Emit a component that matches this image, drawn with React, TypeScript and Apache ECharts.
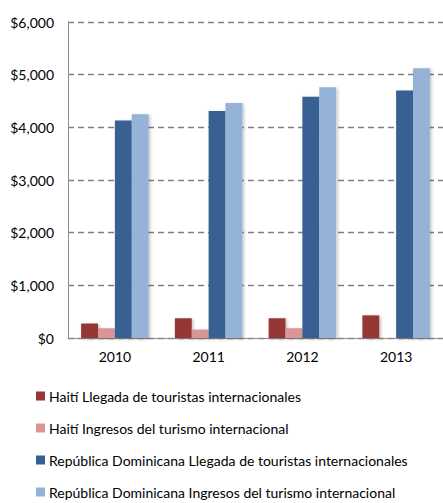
import React, { useEffect, useRef } from "react";
import * as echarts from "echarts";

const categories = ["2010", "2011", "2012", "2013"];
const haitiArrivals = [275, 375, 375, 430];
const haitiReceipts = [185, 160, 185, null];
const drArrivals = [4130, 4310, 4580, 4700];
const drReceipts = [4250, 4460, 4760, 5120];
const seriesNames = [
  "Haití Llegada de touristas internacionales",
  "Haití Ingresos del turismo internacional",
  "República Dominicana Llegada de touristas internacionales",
  "República Dominicana Ingresos del turismo internacional",
];
const colors = ["#953735", "#D99694", "#376092", "#95B3D7"];

export default function App() {
  const ref = useRef<HTMLDivElement>(null);
  useEffect(() => {
    document.body.style.margin = "0";
    const chart = echarts.init(ref.current!, null, { renderer: "svg" });
    const dataSets = [haitiArrivals, haitiReceipts, drArrivals, drReceipts];
    const legendTops = [384, 416, 448, 480];
    chart.setOption({
      animation: false,
      textStyle: { fontFamily: "Lato, 'Open Sans', sans-serif" },
      grid: { left: 68, right: 0, top: 22, bottom: 165, containLabel: false },
      legend: seriesNames.map((n, i) => ({
        orient: "horizontal",
        left: 31,
        top: legendTops[i],
        itemWidth: 9,
        itemHeight: 9,
        itemGap: 4,
        icon: "rect",
        textStyle: { fontSize: 14, color: "#000", fontFamily: "Lato, sans-serif", padding: [0, 0, 0, -1] },
        data: [n],
      })),
      xAxis: {
        type: "category",
        data: categories,
        axisLine: { lineStyle: { color: "#8c8c8c", width: 1 } },
        axisTick: { show: false },
        axisLabel: { fontSize: 14, color: "#000", margin: 11 },
      },
      yAxis: {
        type: "value",
        min: 0,
        max: 6000,
        interval: 1000,
        axisLine: { show: true, lineStyle: { color: "#8c8c8c", width: 1 } },
        axisTick: { show: false },
        splitLine: { lineStyle: { color: "#808080", type: [6, 4], width: 1.3 } },
        axisLabel: {
          fontSize: 14,
          color: "#000",
          margin: 14,
          formatter: (v: number) => "$" + v.toLocaleString("en-US"),
        },
      },
      series: dataSets.map((d, i) => ({
        name: seriesNames[i],
        type: "bar",
        data: d,
        barGap: "0%",
        barCategoryGap: "28%",
        itemStyle: {
          color: colors[i],
          shadowColor: "rgba(0,0,0,0.25)",
          shadowBlur: 3,
          shadowOffsetX: 1.5,
          shadowOffsetY: 1,
        },
      })),
    });
    return () => chart.dispose();
  }, []);
  return <div ref={ref} style={{ width: 443, height: 503 }} />;
}
